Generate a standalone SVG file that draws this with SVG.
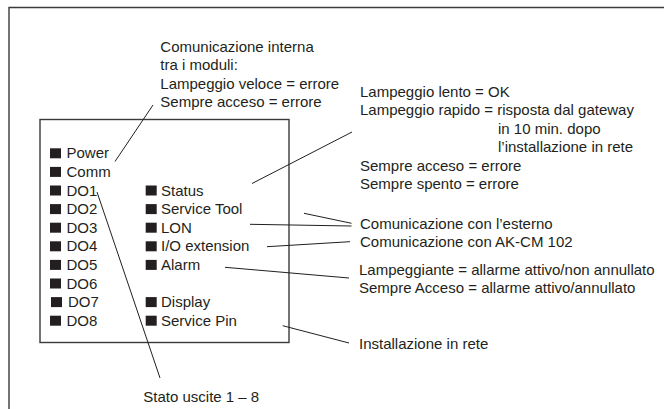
<svg xmlns="http://www.w3.org/2000/svg" width="664" height="409" viewBox="0 0 664 409">
<style>
text{font-family:"Liberation Sans",Arial,sans-serif;font-size:15px;fill:#231f20}
.frame{fill:none;stroke:#3a3a3a;stroke-width:1.4}
.sq{fill:#231f20}
.ln{stroke:#231f20;stroke-width:1;fill:none}
</style>
<rect width="664" height="409" fill="#fff"/>
<path class="frame" d="M9,409 V7.5 H664"/>
<g id="module">
<rect class="frame" x="40" y="119.5" width="249" height="223"/>
</g>
<g id="leds-left">
<rect class="sq" x="50" y="148.3" width="11" height="10"/><text x="66.5" y="158.3">Power</text>
<rect class="sq" x="50" y="166.9" width="11" height="10"/><text x="66.5" y="176.9">Comm</text>
<rect class="sq" x="50" y="185.5" width="11" height="10"/><text x="66.5" y="195.5">DO1</text>
<rect class="sq" x="50" y="204.1" width="11" height="10"/><text x="66.5" y="214.1">DO2</text>
<rect class="sq" x="50" y="222.7" width="11" height="10"/><text x="66.5" y="232.7">DO3</text>
<rect class="sq" x="50" y="241.3" width="11" height="10"/><text x="66.5" y="251.3">DO4</text>
<rect class="sq" x="50" y="259.9" width="11" height="10"/><text x="66.5" y="269.9">DO5</text>
<rect class="sq" x="50" y="278.5" width="11" height="10"/><text x="66.5" y="288.5">DO6</text>
<rect class="sq" x="51" y="297.1" width="11" height="10"/><text x="68" y="307.1">DO7</text>
<rect class="sq" x="50" y="315.7" width="11" height="10"/><text x="66.5" y="325.7">DO8</text>
</g>
<g id="leds-right">
<rect class="sq" x="145.7" y="185.5" width="11" height="10"/><text x="161" y="195.5">Status</text>
<rect class="sq" x="145.7" y="204.1" width="11" height="10"/><text x="161" y="214.1">Service Tool</text>
<rect class="sq" x="145.7" y="222.7" width="11" height="10"/><text x="161" y="232.7">LON</text>
<rect class="sq" x="145.7" y="241.3" width="11" height="10"/><text x="161" y="251.3">I/O extension</text>
<rect class="sq" x="145.7" y="259.9" width="11" height="10"/><text x="161" y="269.9">Alarm</text>
<rect class="sq" x="145.7" y="297.1" width="11" height="10"/><text x="161" y="307.1">Display</text>
<rect class="sq" x="145.7" y="315.7" width="11" height="10"/><text x="161" y="325.7">Service Pin</text>
</g>
<g id="note-comm">
<text x="160.3" y="51.5">Comunicazione interna</text>
<text x="160.3" y="70">tra i moduli:</text>
<text x="160.3" y="88.5">Lampeggio veloce = errore</text>
<text x="160.3" y="107">Sempre acceso = errore</text>
</g>
<g id="note-status">
<text x="360" y="96.5">Lampeggio lento = OK</text>
<text x="360" y="115">Lampeggio rapido = risposta dal gateway</text>
<text x="498" y="133.5">in 10 min. dopo</text>
<text x="498" y="152">l’installazione in rete</text>
<text x="360" y="170.5">Sempre acceso = errore</text>
<text x="360" y="189">Sempre spento = errore</text>
</g>
<g id="note-ext">
<text x="360" y="228.5">Comunicazione con l’esterno</text>
</g>
<g id="note-akcm">
<text x="360" y="247">Comunicazione con AK-CM 102</text>
</g>
<g id="note-alarm">
<text x="359" y="274.5">Lampeggiante = allarme attivo/non annullato</text>
<text x="359" y="292.5">Sempre Acceso = allarme attivo/annullato</text>
</g>
<g id="note-install">
<text x="359" y="349">Installazione in rete</text>
</g>
<g id="note-do">
<text x="143.3" y="402">Stato uscite 1 – 8</text>
</g>
<g id="connectors">
<line class="ln" x1="115" y1="161.5" x2="153" y2="105"/>
<line class="ln" x1="252" y1="183.5" x2="352" y2="132"/>
<line class="ln" x1="304" y1="213.3" x2="351.5" y2="223.3"/>
<line class="ln" x1="250" y1="224.3" x2="351.5" y2="226"/>
<line class="ln" x1="267" y1="246.7" x2="350" y2="241.7"/>
<line class="ln" x1="225" y1="267.3" x2="349" y2="278"/>
<line class="ln" x1="282.7" y1="325.7" x2="349" y2="343"/>
<line class="ln" x1="97" y1="192" x2="160" y2="378"/>
</g>
</svg>
